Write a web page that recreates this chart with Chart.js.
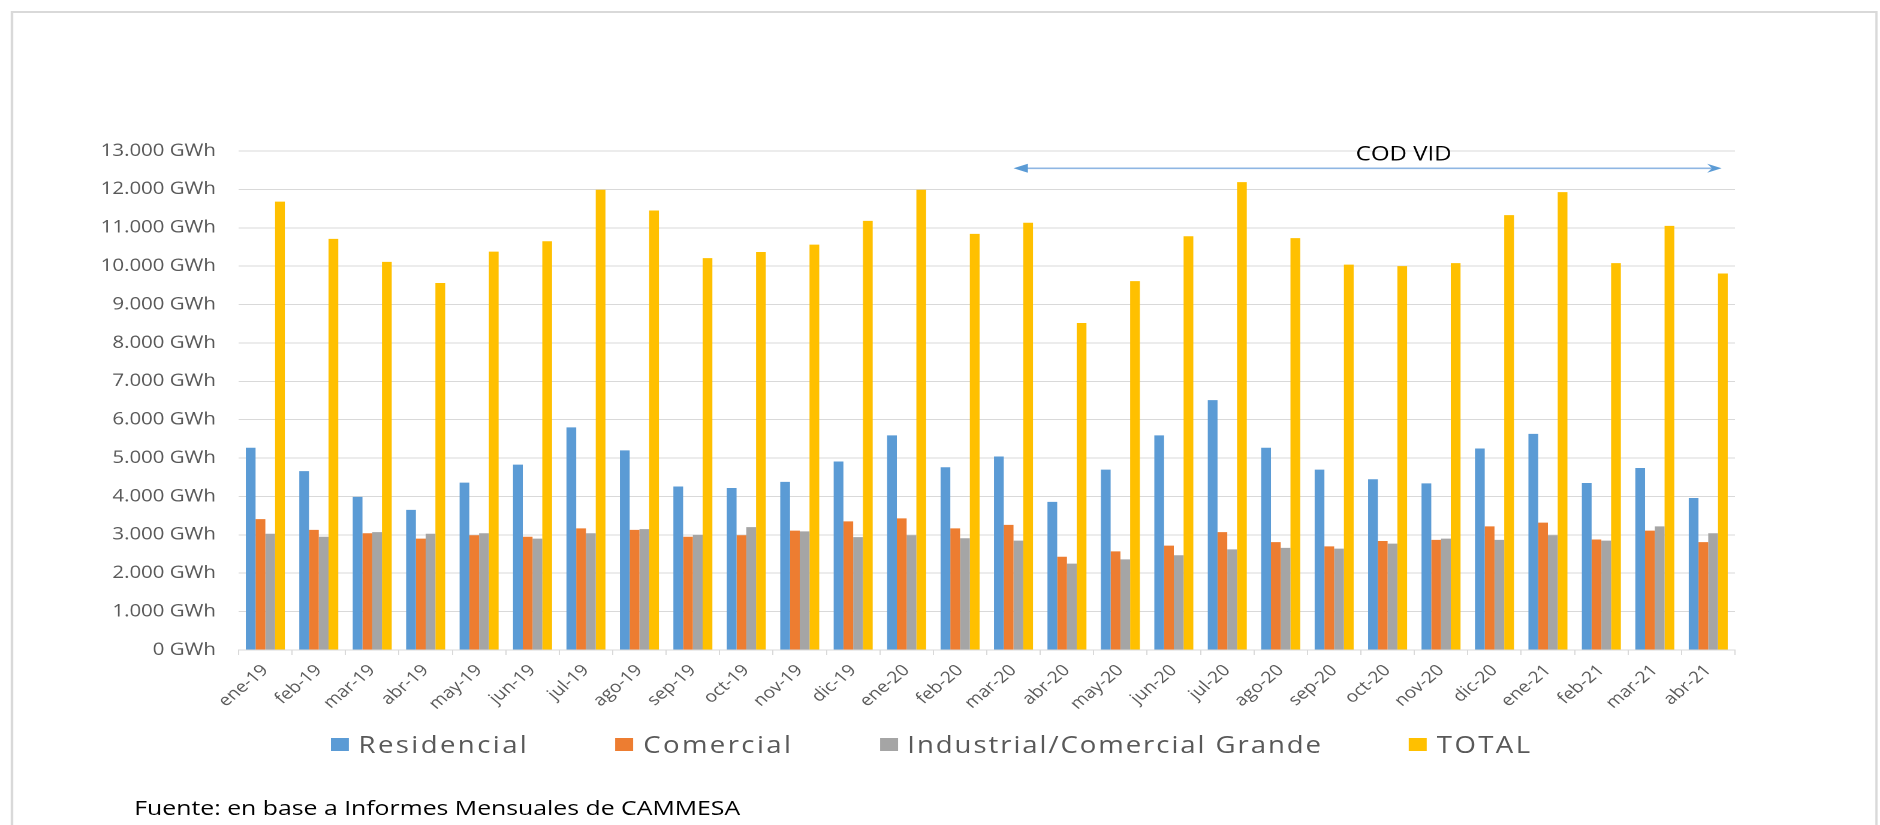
<!DOCTYPE html>
<html>
<head>
<meta charset="utf-8">
<title>Consumo de energía eléctrica por tipo de usuario</title>
<script src="https://cdn.jsdelivr.net/npm/chart.js@4.4.1/dist/chart.umd.min.js"></script>
<style>
  html, body { margin: 0; padding: 0; background: #fff; overflow: hidden; }
  /* the reference is stretched sideways, so the whole stage is drawn narrow and widened */
  #stage { position: absolute; left: 0; top: 0; width: 1568px; height: 825px; transform-origin: 0 0; transform: scaleX(1.199); }
  #frame { position: absolute; left: 9px; top: 11px; width: 1557px; height: 900px; border: 2px solid #d9d9d9; box-sizing: border-box; }
  #wrap { position: absolute; left: 0; top: 0; width: 1568px; height: 825px; }
  #legend { position: absolute; left: 276px; top: 728px; display: flex; align-items: center; font-family: "Open Sans", sans-serif; font-size: 23px; letter-spacing: 2px; color: #595959; white-space: nowrap; }
  #legend .item { display: flex; align-items: center; margin-right: 72px; }
  #legend .item.wide span:last-child { letter-spacing: 1.6px; }
  #legend .box { width: 15px; height: 13px; margin-right: 8px; }
  #source { position: absolute; left: 112px; top: 793px; font-family: "Open Sans", sans-serif; font-size: 20.7px; color: #000; white-space: nowrap; }
</style>
</head>
<body>
<div id="stage">
  <div id="frame"></div>
  <div id="wrap"><canvas id="chartBar"></canvas></div>
  <div id="legend"></div>
  <div id="source">Fuente: en base a Informes Mensuales de CAMMESA</div>
</div>
<script>
const categories = ['ene-19', 'feb-19', 'mar-19', 'abr-19', 'may-19', 'jun-19', 'jul-19', 'ago-19', 'sep-19', 'oct-19',
  'nov-19', 'dic-19', 'ene-20', 'feb-20', 'mar-20', 'abr-20', 'may-20', 'jun-20', 'jul-20', 'ago-20',
  'sep-20', 'oct-20', 'nov-20', 'dic-20', 'ene-21', 'feb-21', 'mar-21', 'abr-21'];

// GWh por mes
const residencial = [5270, 4660, 3990, 3650, 4360, 4830, 5800, 5200, 4260, 4220,
  4380, 4910, 5590, 4760, 5040, 3860, 4700, 5590, 6510, 5270,
  4700, 4450, 4340, 5250, 5630, 4350, 4740, 3960];
const comercial = [3410, 3130, 3040, 2900, 2990, 2950, 3170, 3130, 2950, 2990,
  3110, 3350, 3430, 3170, 3260, 2430, 2570, 2720, 3070, 2810,
  2700, 2840, 2870, 3220, 3320, 2880, 3110, 2810];
const industrial = [3030, 2950, 3070, 3030, 3040, 2900, 3040, 3150, 3000, 3200,
  3090, 2940, 2990, 2910, 2850, 2250, 2360, 2470, 2620, 2660,
  2640, 2770, 2900, 2870, 2990, 2850, 3220, 3040];
const total = [11680, 10710, 10110, 9560, 10380, 10650, 11990, 11450, 10210, 10370,
  10560, 11180, 11990, 10840, 11130, 8520, 9610, 10780, 12190, 10730,
  10040, 10000, 10080, 11330, 11930, 10080, 11050, 9810];

const seriesNames = ['Residencial', 'Comercial', 'Industrial/Comercial Grande', 'TOTAL'];
const seriesColors = ['#5b9bd5', '#ed7d31', '#a5a5a5', '#ffc000'];

const yMax = 13000;
const yStep = 1000;

const arrowLabel = 'COD VID';
const arrowFrom = 'mar-20';
const arrowTo = 'abr-21';
const arrowLevel = 12550;

function gwh(v) {
  return String(v).replace(/\B(?=(\d{3})+(?!\d))/g, '.') + ' GWh';
}

const covidArrow = {
  id: 'covidArrow',
  afterDatasetsDraw(chart) {
    const { ctx, scales: { x, y } } = chart;
    const cat = x.getPixelForValue(1) - x.getPixelForValue(0);
    const x1 = x.getPixelForValue(categories.indexOf(arrowFrom));
    const x2 = x.getPixelForValue(categories.indexOf(arrowTo)) + cat * 0.25;
    const yy = y.getPixelForValue(arrowLevel);
    ctx.save();
    ctx.strokeStyle = '#8fb6e3';
    ctx.lineWidth = 1.6;
    ctx.beginPath();
    ctx.moveTo(x1 + 10, yy);
    ctx.lineTo(x2 - 8, yy);
    ctx.stroke();
    ctx.fillStyle = '#5b9bd5';
    // left head
    ctx.beginPath();
    ctx.moveTo(x1, yy);
    ctx.lineTo(x1 + 12, yy - 4.5);
    ctx.lineTo(x1 + 12, yy + 4.5);
    ctx.closePath();
    ctx.fill();
    // right head
    ctx.beginPath();
    ctx.moveTo(x2, yy);
    ctx.lineTo(x2 - 12, yy - 4.5);
    ctx.lineTo(x2 - 8, yy);
    ctx.lineTo(x2 - 12, yy + 4.5);
    ctx.closePath();
    ctx.fill();
    ctx.fillStyle = '#000';
    ctx.font = '20px "Open Sans"';
    ctx.textAlign = 'center';
    ctx.textBaseline = 'middle';
    ctx.fillText(arrowLabel, x.getPixelForValue(categories.indexOf('oct-20')) + cat * 0.3, y.getPixelForValue(12900));
    ctx.restore();
  }
};

const seriesData = [residencial, comercial, industrial, total];

new Chart(document.getElementById('chartBar'), {
  type: 'bar',
  data: {
    labels: categories,
    datasets: seriesData.map((d, i) => ({
      label: seriesNames[i],
      data: d,
      backgroundColor: seriesColors[i],
      borderWidth: 0,
      categoryPercentage: 0.73,
      barPercentage: 1
    }))
  },
  options: {
    responsive: true,
    maintainAspectRatio: false,
    animation: false,
    devicePixelRatio: 2,
    layout: { padding: { left: 0, right: 121, top: 151, bottom: 115 } },
    plugins: {
      legend: { display: false },
      tooltip: { enabled: false }
    },
    scales: {
      x: {
        afterFit(scale) { scale.height = 60; },
        grid: { display: true, drawOnChartArea: false, drawTicks: true, tickLength: 5, color: '#d9d9d9' },
        border: { display: true, color: '#d9d9d9' },
        ticks: {
          autoSkip: false,
          minRotation: 45,
          maxRotation: 45,
          padding: 6,
          color: '#595959',
          font: { family: 'Open Sans', size: 16 }
        }
      },
      y: {
        min: 0,
        max: yMax,
        afterFit(scale) { scale.width = 199; },
        grid: { color: '#d9d9d9', drawTicks: false },
        border: { display: false },
        ticks: {
          stepSize: yStep,
          padding: 19,
          color: '#595959',
          font: { family: 'Open Sans', size: 17 },
          callback: (v) => gwh(v)
        }
      }
    }
  },
  plugins: [covidArrow]
});

// leyenda en html, debajo del grafico
const legendBox = document.getElementById('legend');
seriesNames.forEach((name, i) => {
  const item = document.createElement('div');
  item.className = name.length > 20 ? 'item wide' : 'item';
  const box = document.createElement('span');
  box.className = 'box';
  box.style.background = seriesColors[i];
  const txt = document.createElement('span');
  txt.textContent = name;
  item.appendChild(box);
  item.appendChild(txt);
  legendBox.appendChild(item);
});
</script>
</body>
</html>
